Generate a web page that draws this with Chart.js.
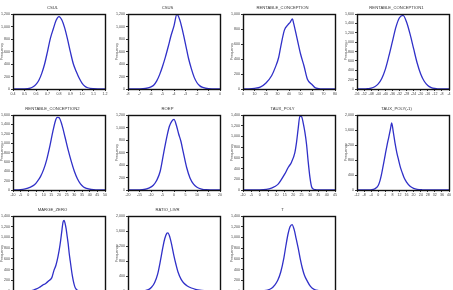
<!DOCTYPE html>
<html>
<head>
<meta charset="utf-8">
<script src="https://cdn.jsdelivr.net/npm/chart.js@4.4.1/dist/chart.umd.min.js"></script>
<style>
html, body { margin: 0; padding: 0; background: #fff; width: 453px; height: 290px; overflow: hidden; }
canvas { position: absolute; }
</style>
</head>
<body>
<script>
// series names (one small histogram-polygon per panel)
const titles = ['CSUL', 'CSUS', 'RENTABLE_CONCEPTION', 'RENTABLE_CONCEPTION1',
    'RENTABLE_CONCEPTION2', 'ROEP', 'TAUX_POLY', 'TAUX_POLY(-1)',
    'MARGE_ZERO', 'RATIO_LIVR', 'T'];

const csulX = [0.40,0.45,0.50,0.55,0.575,0.60,0.625,0.65,0.675,0.70,0.725,0.75,0.775,0.80,0.825,0.85,0.875,0.90,0.925,0.95,0.975,1.00,1.025,1.05,1.10,1.15,1.20];
const csulY = [0,0,2,15,35,75,140,250,400,600,810,960,1100,1160,1105,975,790,585,400,280,175,95,45,20,4,1,0];
const csulTicks = [0.4,0.5,0.6,0.7,0.8,0.9,1.0,1.1,1.2];
const csulYTicks = [0,200,400,600,800,1000,1200];

const csusX = [-8,-7,-6.5,-6.25,-6,-5.75,-5.5,-5.25,-5,-4.75,-4.5,-4.25,-4,-3.75,-3.5,-3.25,-3,-2.75,-2.5,-2.25,-2,-1.75,-1.5,-1,0];
const csusY = [0,2,8,18,35,65,130,230,360,510,680,860,1010,1195,1110,930,720,500,330,190,100,50,25,5,0];
const csusTicks = [-8,-7,-6,-5,-4,-3,-2,-1,0];
const csusYTicks = [0,200,400,600,800,1000,1200];

const rentX = [0,5,10,15,20,25,28,31,33,36,39,41,43,44,47,50,53,56,60,63,68,75,80];
const rentY = [0,2,9,25,80,180,285,420,580,785,855,890,935,880,675,470,310,130,60,15,2,0,0];
const rentTicks = [0,10,20,30,40,50,60,70,80];
const rentYTicks = [0,200,400,600,800,1000];

const rent1X = [-56,-52,-50,-48,-46,-44,-42,-40,-38,-36,-34,-32,-30,-28,-26,-24,-22,-20,-18,-16,-14,-12,-10,-8,-4];
const rent1Y = [0,2,8,18,48,110,225,420,700,1010,1320,1520,1570,1430,1170,860,555,320,165,75,30,11,4,1,0];
const rent1Ticks = [-56,-52,-48,-44,-40,-36,-32,-28,-24,-20,-16,-12,-8,-4];
const rent1YTicks = [0,200,400,600,800,1000,1200,1400,1600];

const rent2X = [-10,-5,-2,1,4,6,8,10,12,14,16,18,19,20,22,24,26,28,30,32,34,36,38,41,44,50];
const rent2Y = [0,8,25,55,110,190,290,440,650,930,1250,1510,1550,1545,1380,1120,850,610,400,240,130,65,35,12,2,0];
const rent2Ticks = [-10,-5,0,5,10,15,20,25,30,35,40,45,50];
const rent2YTicks = [0,200,400,600,800,1000,1200,1400,1600];

const roepX = [-20,-15,-13,-11,-9,-7.5,-6,-4.5,-3,-2,-1,0,1,2,3,4,5.5,7,8.5,10,12,14,20];
const roepY = [0,2,8,30,75,155,300,590,870,1020,1100,1130,1040,900,780,610,360,190,95,45,15,4,0];
const roepTicks = [-20,-15,-10,-5,0,5,10,15,20];
const roepYTicks = [0,200,400,600,800,1000,1200];

const polyX = [-10,0,4,7,9,11,13,15,17,19,21,22,23,24,25,26,27,28,29,30,31,32,34,38,45];
const polyY = [0,2,12,35,65,110,200,300,420,520,700,890,1150,1380,1370,1250,1080,850,520,240,60,18,4,0,0];
const polyTicks = [-10,-5,0,5,10,15,20,25,30,35,40,45];
const polyYTicks = [0,200,400,600,800,1000,1200,1400];

const poly1X = [-12,-6,-4,-2,0,1,2,3,4,5,6,7,7.6,8.5,9.5,10.5,11.5,12.5,13.5,14.5,16,18,20,22,25,30,40];
const poly1Y = [0,0,5,30,120,250,450,700,950,1200,1420,1650,1790,1550,1250,1000,800,610,470,340,210,100,45,18,5,0,0];
const poly1Ticks = [-12,-8,-4,0,4,8,12,16,20,24,28,32,36,40];
const poly1YTicks = [0,400,800,1200,1600,2000];

const margeX = [-40,-30,-24,-20,-17,-14,-11,-8,-5,-2,0,2,4,6,7.5,9,10,11,12,13,14,15,16,17,18,19,20,21,23,26,30,40,50];
const margeY = [0,0,5,18,38,70,110,140,190,250,380,480,640,860,1080,1290,1320,1260,1160,1020,880,700,560,420,290,190,110,55,15,4,0,0,0];
const margeTicks = [-40,-30,-20,-10,0,10,20,30,40,50];
const margeYTicks = [0,200,400,600,800,1000,1200,1400];

const ratioX = [-10,-4,-2,0,1.5,3,4.5,6,7,8,9,9.5,10.5,11.5,12.5,13.5,14.5,16,17.5,19,21,23,25,28,31,35];
const ratioY = [0,0,5,35,100,220,450,850,1150,1400,1540,1550,1430,1200,930,700,500,310,200,135,80,45,20,8,2,0];
const ratioTicks = [-10,-5,0,5,10,15,20,25,30,35];
const ratioYTicks = [0,400,800,1200,1600,2000];

const tX = [0,5,10,12,14,15.5,17,18.5,20,21,22,23,24,25,26,27,28,29,30,31.5,33,35,37,40,45];
const tY = [0,0,5,15,50,110,200,360,620,850,1060,1200,1240,1150,980,800,600,430,300,180,85,25,8,0,0];
const tTicks = [0,5,10,15,20,25,30,35,40,45];
const tYTicks = [0,200,400,600,800,1000,1200,1400];

const panels = [
    [csulX, csulY, csulTicks, csulYTicks, 1],
    [csusX, csusY, csusTicks, csusYTicks, 0],
    [rentX, rentY, rentTicks, rentYTicks, 0],
    [rent1X, rent1Y, rent1Ticks, rent1YTicks, 0],
    [rent2X, rent2Y, rent2Ticks, rent2YTicks, 0],
    [roepX, roepY, roepTicks, roepYTicks, 0],
    [polyX, polyY, polyTicks, polyYTicks, 0],
    [poly1X, poly1Y, poly1Ticks, poly1YTicks, 0],
    [margeX, margeY, margeTicks, margeYTicks, 0],
    [ratioX, ratioY, ratioTicks, ratioYTicks, 0],
    [tX, tY, tTicks, tYTicks, 0]
];

const colLeft = [0, 115, 230, 344];
const rowTop = [0, 101, 202];

// box round the plot area, like the original frames
const frame = {
    id: 'frame',
    afterDatasetsDraw(chart) {
        const a = chart.chartArea, c = chart.ctx;
        c.save();
        c.strokeStyle = '#111';
        c.lineWidth = 1.4;
        c.strokeRect(Math.round(a.left) + 0.5, Math.round(a.top) + 0.5,
            Math.round(a.right - a.left), Math.round(a.bottom - a.top));
        c.restore();
    }
};

const tickFont = { family: 'Liberation Sans', size: 3.6 };

panels.forEach((p, i) => {
    const [xs, ys, xt, yt, dec] = p;
    const cv = document.createElement('canvas');
    cv.width = 113;
    cv.height = 101;
    cv.style.left = colLeft[i % 4] + 'px';
    cv.style.top = rowTop[Math.floor(i / 4)] + 'px';
    document.body.appendChild(cv);

    new Chart(cv, {
        type: 'line',
        data: {
            datasets: [{
                data: xs.map((x, k) => ({ x: x, y: ys[k] })),
                borderColor: '#3030c8',
                borderWidth: 1.3,
                pointRadius: 0,
                fill: false,
                cubicInterpolationMode: 'monotone'
            }]
        },
        options: {
            responsive: false,
            animation: false,
            events: [],
            layout: { padding: { left: 0, right: 8, top: 0, bottom: 4 } },
            plugins: {
                legend: { display: false },
                tooltip: { enabled: false },
                title: {
                    display: true,
                    text: titles[i],
                    color: '#333',
                    font: { family: 'Liberation Sans', size: 4.2, weight: 'normal' },
                    padding: { top: 5, bottom: 4 }
                }
            },
            scales: {
                x: {
                    type: 'linear',
                    min: xt[0],
                    max: xt[xt.length - 1],
                    afterBuildTicks: s => { s.ticks = xt.map(v => ({ value: v })); },
                    afterFit: s => { s.height = 8; },
                    border: { display: false },
                    grid: { drawOnChartArea: false, tickLength: 2, color: '#333' },
                    ticks: {
                        autoSkip: false, maxRotation: 0, padding: 1,
                        color: '#444', font: tickFont,
                        callback: v => dec ? v.toFixed(dec) : String(v)
                    }
                },
                y: {
                    min: yt[0],
                    max: yt[yt.length - 1],
                    afterBuildTicks: s => { s.ticks = yt.map(v => ({ value: v })); },
                    afterFit: s => { s.width = 13; },
                    border: { display: false },
                    grid: { drawOnChartArea: false, tickLength: 2, color: '#333' },
                    title: {
                        display: true, text: 'Frequency', color: '#444',
                        font: { family: 'Liberation Sans', size: 3.6 },
                        padding: { top: 0, bottom: 0 }
                    },
                    ticks: {
                        autoSkip: false, padding: 1, color: '#444', font: tickFont,
                        callback: v => v.toLocaleString('en-US')
                    }
                }
            }
        },
        plugins: [frame]
    });
});
</script>
</body>
</html>
